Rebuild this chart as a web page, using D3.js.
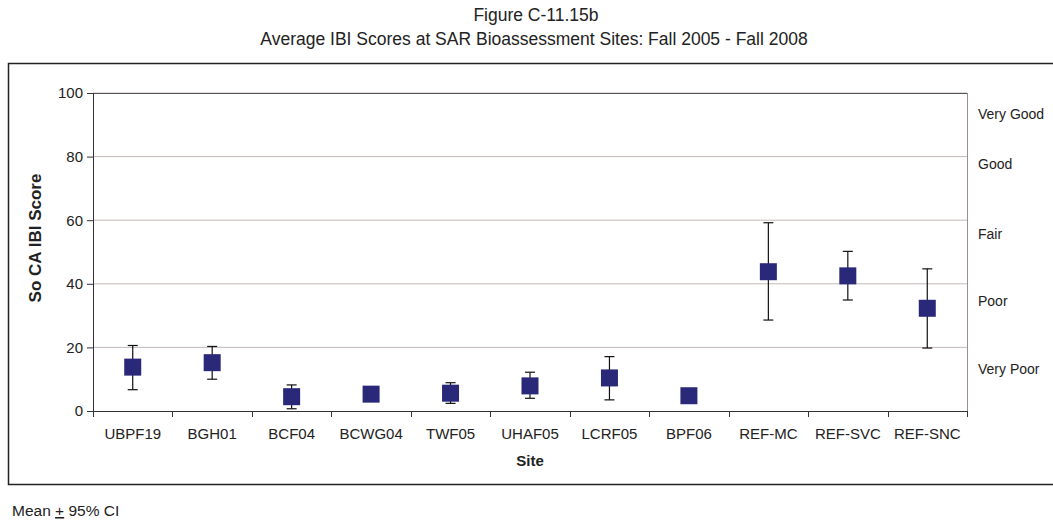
<!DOCTYPE html>
<html>
<head>
<meta charset="utf-8">
<script src="https://cdn.jsdelivr.net/npm/d3@7"></script>
<style>
  body { margin: 0; background: #fff; }
  svg { display: block; font-family: "Liberation Sans", Arial, sans-serif; }
</style>
</head>
<body>
<svg id="chart" width="1053" height="525"></svg>
<script>
const sites = ["UBPF19","BGH01","BCF04","BCWG04","TWF05","UHAF05","LCRF05","BPF06","REF-MC","REF-SVC","REF-SNC"];
const means = [13.8, 15.2, 4.5, 5.3, 5.6, 7.9, 10.4, 4.8, 43.8, 42.5, 32.3];
const upper = [20.6, 20.3, 8.2, 5.3, 8.9, 12.2, 17.1, 4.8, 59.2, 50.2, 44.7];
const lower = [6.7, 10.0, 0.7, 5.3, 2.4, 4.0, 3.5, 4.8, 28.6, 34.9, 19.8];
const yTicks = [0, 20, 40, 60, 80, 100];
const conditionLabels = ["Very Good", "Good", "Fair", "Poor", "Very Poor"];
const conditionPos = [93.4, 77.7, 55.7, 34.6, 13.2];

const svg = d3.select("#chart");
const L = 93, R = 967, T = 93, B = 411;

const x = d3.scaleBand().domain(sites).range([L, R]).paddingInner(0).paddingOuter(0);
const y = d3.scaleLinear().domain([0, 100]).range([B, T]);

// outer box
svg.append("rect").attr("x", 8.5).attr("y", 63.5).attr("width", 1060).attr("height", 421)
  .attr("fill", "none").attr("stroke", "#222").attr("stroke-width", 1.5);

// titles
svg.append("text").attr("x", 536).attr("y", 21).attr("text-anchor", "middle")
  .attr("font-size", 17.5).attr("fill", "#222").text("Figure C-11.15b");
svg.append("text").attr("x", 534).attr("y", 45).attr("text-anchor", "middle")
  .attr("font-size", 17.5).attr("fill", "#222").text("Average IBI Scores at SAR Bioassessment Sites: Fall 2005 - Fall 2008");

// gridlines
svg.append("g").selectAll("line").data(yTicks.filter(d => d > 0)).join("line")
  .attr("x1", L).attr("x2", R).attr("y1", d => y(d)).attr("y2", d => y(d))
  .attr("stroke", "#c8b8b8").attr("stroke-width", 1);

// plot border (top/right)
svg.append("line").attr("x1", R + 0.5).attr("x2", R + 0.5).attr("y1", T).attr("y2", B)
  .attr("stroke", "#9a8f8f").attr("stroke-width", 1);
svg.append("line").attr("x1", L).attr("x2", R).attr("y1", T + 0.5).attr("y2", T + 0.5)
  .attr("stroke", "#555").attr("stroke-width", 1);

// y axis
const yAxis = d3.axisLeft(y).tickValues(yTicks).tickSize(6).tickPadding(4);
const gy = svg.append("g").attr("transform", `translate(${L},0)`).call(yAxis);
gy.select(".domain").attr("stroke", "#333");
gy.selectAll(".tick line").attr("stroke", "#333");
gy.selectAll(".tick text").attr("font-size", 15).attr("fill", "#222")
  .attr("font-family", "Liberation Sans, Arial, sans-serif");

// x axis
const xAxis = d3.axisBottom(x).tickSize(0).tickPadding(17);
const gx = svg.append("g").attr("transform", `translate(0,${B})`).call(xAxis);
gx.select(".domain").attr("stroke", "#333");
gx.selectAll(".tick text").attr("font-size", 15).attr("fill", "#222")
  .attr("font-family", "Liberation Sans, Arial, sans-serif");
// category boundary ticks
const bounds = sites.map(s => x(s)).concat([x(sites[sites.length - 1]) + x.bandwidth()]);
svg.append("g").selectAll("line").data(bounds).join("line")
  .attr("x1", d => Math.round(d) + 0.5).attr("x2", d => Math.round(d) + 0.5)
  .attr("y1", B).attr("y2", B + 6).attr("stroke", "#333");

// axis titles
svg.append("text").attr("transform", `translate(41,238) rotate(-90)`)
  .attr("text-anchor", "middle").attr("font-size", 17).attr("font-weight", "bold")
  .attr("fill", "#222").text("So CA IBI Score");
svg.append("text").attr("x", 530).attr("y", 466).attr("text-anchor", "middle")
  .attr("font-size", 15).attr("font-weight", "bold").attr("fill", "#222").text("Site");

// condition labels
svg.append("g").selectAll("text").data(conditionLabels).join("text")
  .attr("x", 978).attr("y", (d, i) => y(conditionPos[i]) + 5)
  .attr("font-size", 14).attr("fill", "#222").text(d => d);

// error bars
const data = sites.map((s, i) => ({ s, m: means[i], u: upper[i], l: lower[i] }));
const eb = svg.append("g");
const cx = d => x(d.s) + x.bandwidth() / 2;
eb.selectAll("line.v").data(data).join("line").attr("class", "v")
  .attr("x1", cx).attr("x2", cx).attr("y1", d => y(d.u)).attr("y2", d => y(d.l))
  .attr("stroke", "#111").attr("stroke-width", 1.2);
eb.selectAll("line.cu").data(data).join("line").attr("class", "cu")
  .attr("x1", d => cx(d) - 5).attr("x2", d => cx(d) + 5).attr("y1", d => y(d.u)).attr("y2", d => y(d.u))
  .attr("stroke", "#111").attr("stroke-width", 1.2);
eb.selectAll("line.cl").data(data).join("line").attr("class", "cl")
  .attr("x1", d => cx(d) - 5).attr("x2", d => cx(d) + 5).attr("y1", d => y(d.l)).attr("y2", d => y(d.l))
  .attr("stroke", "#111").attr("stroke-width", 1.2);

// markers
const ms = 17;
svg.append("g").selectAll("rect").data(data).join("rect")
  .attr("x", d => cx(d) - ms / 2).attr("y", d => y(d.m) - ms / 2)
  .attr("width", ms).attr("height", ms).attr("fill", "#2a2879");

// footnote
const fn = svg.append("text").attr("x", 12).attr("y", 516).attr("font-size", 15.5).attr("fill", "#222");
fn.append("tspan").text("Mean ");
fn.append("tspan").attr("text-decoration", "underline").text("+");
fn.append("tspan").text("  95% CI");
</script>
</body>
</html>
